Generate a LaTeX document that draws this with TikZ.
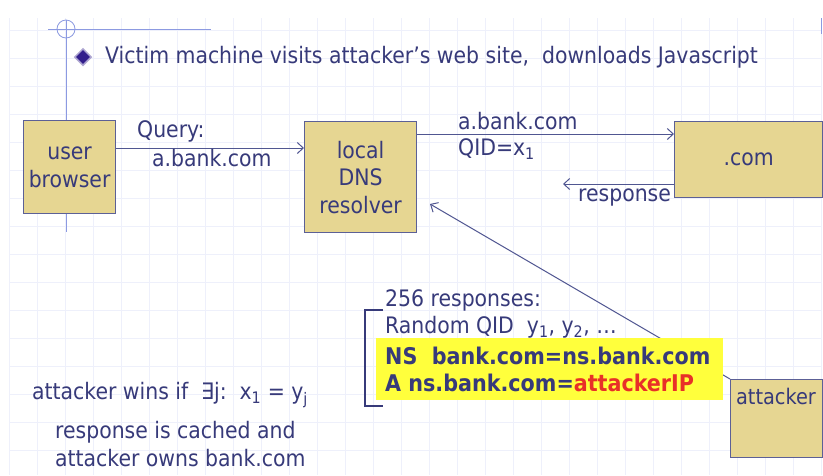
\documentclass[tikz,border=0pt]{standalone}
\usepackage{fontspec}
\setmainfont{DejaVu Sans Condensed}
\usetikzlibrary{arrows.meta,shapes.geometric}
\definecolor{txt}{RGB}{55,58,122}
\definecolor{boxfill}{RGB}{230,214,146}
\definecolor{boxline}{RGB}{92,96,150}
\definecolor{linec}{RGB}{80,86,145}
\definecolor{gridc}{RGB}{238,240,251}
\definecolor{decoc}{RGB}{140,154,225}
\definecolor{hilite}{RGB}{255,255,60}
\definecolor{redt}{RGB}{232,48,40}
\definecolor{bullet}{RGB}{50,30,140}
\tikzset{
  box/.style={draw=boxline, fill=boxfill, line width=1.2pt, inner sep=0pt, anchor=north west},
  lbl/.style={text=txt, inner sep=0pt, font=\fontsize{22.7}{27.5}\selectfont},
  boldlbl/.style={lbl, font=\fontsize{23}{27.5}\selectfont\bfseries},
  arr/.style={draw=linec, line width=1pt, -{Straight Barb[length=6pt,width=11pt]}},
  deco/.style={draw=decoc, line width=0.8pt},
}
\begin{document}
\begin{tikzpicture}[x=1pt,y=-1pt]
\useasboundingbox (0,0) rectangle (823,475);
\fill[white] (0,0) rectangle (823,475);
% background grid
\foreach \gx in {9,37,...,821} \draw[gridc, line width=0.8pt] (\gx,18) -- (\gx,475);
\foreach \gy in {30,58,...,474} \draw[gridc, line width=0.8pt] (10,\gy) -- (822,\gy);
% slide decoration
\draw[deco] (66,20) -- (66,232);
\draw[deco] (48,29) -- (211,29);
\draw[deco] (66,29) circle[radius=9];
\draw[deco] (821,18) -- (821,34);
% title
\node[diamond, fill=bullet, draw=bullet!40, line width=1.5pt, minimum width=17pt, minimum height=17pt, inner sep=0pt] (bul) at (83,57) {};
\node[lbl, anchor=west] (title) at (105,57) {Victim machine visits attacker’s web site,\ \ downloads Javascript};
% boxes
\node[box, minimum width=92pt, minimum height=93pt] (user) at (23,120) {};
\node[lbl, align=center] (userl) at (user.center) {user\\browser};
\node[box, minimum width=112pt, minimum height=111pt] (dns) at (304,121) {};
\node[lbl, align=center] (dnsl) at (dns.center) {local\\DNS\\resolver};
\node[box, minimum width=148pt, minimum height=76pt] (com) at (674,121) {};
\node[lbl] (coml) at (com.center) {.com};
\node[box, minimum width=92pt, minimum height=78pt] (att) at (730,379) {};
% connectors
\coordinate (q1) at (0,148);
\coordinate (q2) at (0,134);
\coordinate (q3) at (0,184);
\coordinate (respend) at (563,184);
\coordinate (atttip) at (430,204);
\draw[arr] (user.east |- q1) -- (dns.west |- q1);
\draw[arr] (dns.east |- q2) -- (com.west |- q2);
\draw[arr] (com.west |- q3) -- (respend);
\draw[arr] (att.north west) -- (atttip);
% labels on connectors
\node[lbl, anchor=west] (ql1) at (137,131) {Query:};
\node[lbl, anchor=west] (ql2) at (152,158) {a.bank.com};
\node[lbl, anchor=west] (al1) at (458,121) {a.bank.com};
\node[lbl, anchor=west] (al2) at (458,149) {QID=x\textsubscript{1}};
\node[lbl, anchor=west] (rl) at (578,197) {response};
% attacker responses
\node[fill=hilite, anchor=north west, minimum width=347pt, minimum height=62pt, inner sep=0pt] (yb) at (376,338) {};
\node[lbl, anchor=west] (r1) at (385,300) {256 responses:};
\node[lbl, anchor=west] (r2) at (385,327) {Random QID\ \ y\textsubscript{1}, y\textsubscript{2}, …};
\node[boldlbl, anchor=west] (r3) at (385,356) {NS\ \ bank.com=ns.bank.com};
\node[boldlbl, anchor=west] (r4) at (385,383) {A ns.bank.com=\textcolor{redt}{attackerIP}};
\draw[draw=txt, line width=2pt] (383,310) -- (365,310) -- (365,406) -- (383,406);
\node[lbl, anchor=north, font=\fontsize{21.5}{26}\selectfont] (attl) at (776,388) {attacker};
% bottom text
\node[lbl, anchor=west] (w1) at (32,395) {attacker wins if\ \ ∃j:\ \ x\textsubscript{1} = y\textsubscript{j}};
\node[lbl, anchor=west] (w2) at (55,432) {response is cached and};
\node[lbl, anchor=west] (w3) at (55,458) {attacker owns bank.com};
\end{tikzpicture}
\end{document}
